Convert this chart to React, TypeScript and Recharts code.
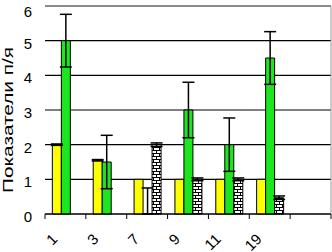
import React from "react";
import {
  BarChart,
  Bar,
  XAxis,
  YAxis,
  CartesianGrid,
  ReferenceLine,
  ErrorBar,
} from "recharts";

const categories = ["1", "3", "7", "9", "11", "19", ""];
const yellowValues = [2, 1.55, 1, 1, 1, 1, null];
const greenValues = [5, 1.5, 0.001, 3, 2, 4.5, null];
const brickValues = [null, null, 2, 1, 1, 0.47, null];
const yellowErrors = [0.02, 0.02, 0, 0, 0, 0, 0];
const greenErrors: Array<number[] | number> = [
  [0.76, 0.76],
  [0.77, 0.77],
  [0.001, 0.75],
  [0.8, 0.8],
  [0.77, 0.77],
  [0.76, 0.76],
  0,
];
const brickErrors = [0, 0, 0.05, 0.04, 0.04, 0.05, 0];
const yTicks = [0, 1, 2, 3, 4, 5, 6];

const FONT = "'Liberation Sans', Arial, sans-serif";

const chartData = categories.map((name, i) => ({
  name,
  yellow: yellowValues[i],
  green: greenValues[i],
  brick: brickValues[i],
  yellowErr: yellowErrors[i],
  greenErr: greenErrors[i],
  brickErr: brickErrors[i],
}));

const XTick = (props: any) => {
  const { x, y, payload, index } = props;
  const half = payload.offset ?? 0;
  return (
    <g>
      <line x1={x - half} x2={x - half} y1={y} y2={y + 5} stroke="#000" />
      {index === categories.length - 1 && (
        <line x1={x + half} x2={x + half} y1={y} y2={y + 5} stroke="#000" />
      )}
      <text
        transform={`translate(${x - 7},${y + 26}) rotate(-45)`}
        textAnchor="end"
        fontSize={15}
        fontFamily={FONT}
        fill="#000"
      >
        {payload.value}
      </text>
    </g>
  );
};

const YTick = (props: any) => {
  const { x, y, payload } = props;
  return (
    <text x={x} y={y + 8} textAnchor="end" fontSize={15} fontFamily={FONT} fill="#000">
      {payload.value}
    </text>
  );
};

export default function App() {
  return (
    <div style={{ position: "absolute", left: 0, top: 0, width: 332, height: 252, background: "#fff" }}>
      <BarChart
        width={332}
        height={252}
        data={chartData}
        margin={{ top: 6, right: 0, left: 0, bottom: 0 }}
        barCategoryGap="18%"
        barGap={0}
      >
        <defs>
          <pattern id="bricks" width="6" height="6" patternUnits="userSpaceOnUse">
            <rect width="6" height="6" fill="#fff" />
            <path d="M0 0.5H6M0 3.5H6M0.5 0.5V3.5M3.5 3.5V6.5" stroke="#000" strokeWidth={1} />
          </pattern>
        </defs>
        <CartesianGrid vertical={false} stroke="#000" strokeWidth={1.2} strokeOpacity={1} />
        <ReferenceLine y={6} stroke="#999" strokeWidth={1.2} />
        <XAxis
          dataKey="name"
          height={38}
          interval={0}
          tickSize={0}
          tickMargin={0}
          tickLine={false}
          axisLine={{ stroke: "#000" }}
          tick={<XTick />}
        />
        <YAxis
          width={45}
          domain={[0, 6]}
          ticks={yTicks}
          tickSize={0}
          tickMargin={13}
          tickLine={false}
          axisLine={false}
          tick={<YTick />}
          label={{
            content: () => (
              <text
                transform="translate(13,120) rotate(-90)"
                textAnchor="middle"
                fontSize={15}
                fontFamily={FONT}
                textLength={146}
                lengthAdjust="spacingAndGlyphs"
                fill="#000"
              >
                Показатели п/я
              </text>
            ),
          }}
        />
        <YAxis
          yAxisId="r"
          orientation="right"
          width={1}
          tick={false}
          tickLine={false}
          axisLine={{ stroke: "#999" }}
        />
        <Bar dataKey="yellow" fill="#ffff00" stroke="#000" strokeWidth={1} isAnimationActive={false}>
          <ErrorBar dataKey="yellowErr" width={6} stroke="#000" strokeWidth={1.5} />
        </Bar>
        <Bar dataKey="green" fill="#1ee61e" stroke="#000" strokeWidth={1} isAnimationActive={false}>
          <ErrorBar dataKey="greenErr" width={6} stroke="#000" strokeWidth={1.5} />
        </Bar>
        <Bar dataKey="brick" fill="url(#bricks)" stroke="#000" strokeWidth={1} isAnimationActive={false}>
          <ErrorBar dataKey="brickErr" width={6} stroke="#000" strokeWidth={1.5} />
        </Bar>
      </BarChart>
    </div>
  );
}
